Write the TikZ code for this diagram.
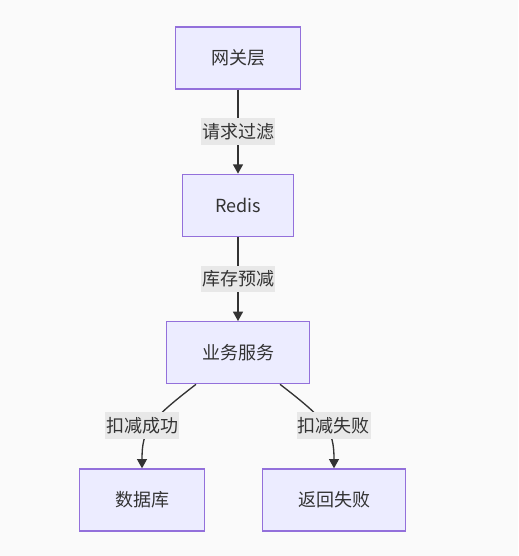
\documentclass[tikz,border=0pt]{standalone}
\usepackage{fontspec}
\usepackage{tikz}
\usetikzlibrary{positioning}
\usetikzlibrary{arrows.meta}
\newfontfamily\cjk{Noto Sans CJK SC}
\definecolor{bgcol}{HTML}{FAFAFA}
\definecolor{nodefill}{HTML}{ECECFF}
\definecolor{nodeline}{HTML}{9370DB}
\definecolor{labelfill}{HTML}{E8E8E8}
\definecolor{textcol}{HTML}{333333}

\begin{document}
\begin{tikzpicture}[
  node distance=63pt and 72pt,
  flownode/.style={draw=nodeline,fill=nodefill,line width=1pt,rectangle,
    minimum height=46.5pt,inner xsep=26.5pt,font=\cjk\fontsize{13.5pt}{16pt}\selectfont,text=textcol},
  edgelabel/.style={fill=labelfill,inner xsep=1pt,inner ysep=0pt,minimum height=20pt,
    font=\cjk\fontsize{13.5pt}{16pt}\selectfont,text=textcol},
  flowedge/.style={draw=textcol,line width=1pt,-{Triangle[length=7pt,width=7.5pt]}}
]
\fill[bgcol] (0,0) rectangle (388.5pt,-417pt);
\useasboundingbox (0,0) rectangle (388.5pt,-417pt);

\node[flownode] (gw) at (178.5pt,-43.5pt) {网关层};
\node[flownode,inner xsep=24.5pt,below=of gw] (redis) {Redis};
\node[flownode,below=of redis] (svc) {业务服务};
\node[flownode,below=of svc,xshift=-72pt] (db) {数据库};
\node[flownode,below=of svc,xshift=72pt] (fail) {返回失败};

\path[flowedge] (gw) -- node[edgelabel] {请求过滤} (redis);
\path[flowedge] (redis) -- node[edgelabel] {库存预减} (svc);
\path[flowedge] (svc.217) .. controls +(-35pt,-27pt) and +(0,29pt) .. node[edgelabel,xshift=-7pt] {扣减成功} (db.north);
\path[flowedge] (svc.323) .. controls +(35pt,-27pt) and +(0,29pt) .. node[edgelabel,xshift=7pt] {扣减失败} (fail.north);
\end{tikzpicture}
\end{document}
